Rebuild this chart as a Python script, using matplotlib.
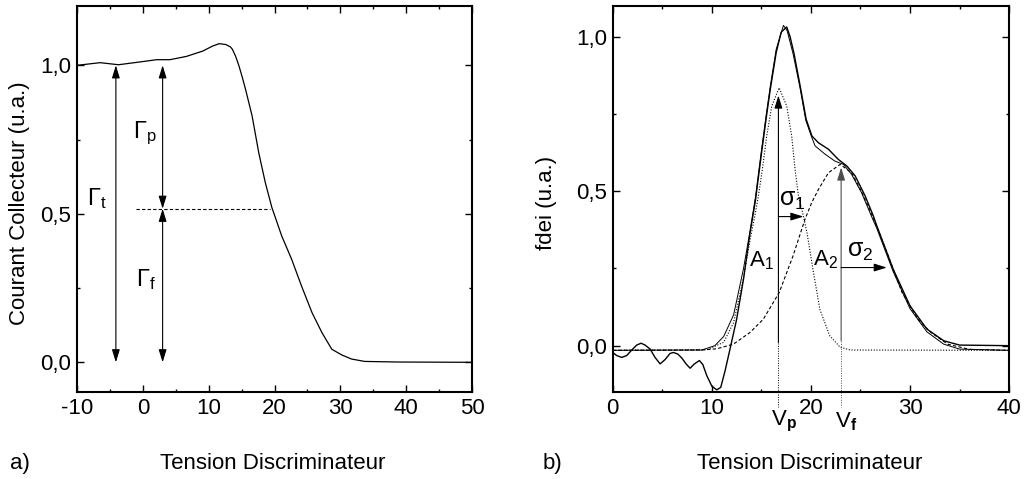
import numpy as np
import matplotlib
matplotlib.use("Agg")
import matplotlib.pyplot as plt
from matplotlib.ticker import MultipleLocator, FuncFormatter

plt.rcParams.update({
    "font.family": ["Liberation Sans", "DejaVu Sans"],
    "font.size": 16,
    "mathtext.fontset": "custom",
    "mathtext.rm": "Liberation Sans",
    "mathtext.it": "Liberation Sans:italic",
    "mathtext.bf": "Liberation Sans:bold",
    "axes.linewidth": 1.5,
    "axes.unicode_minus": False,
})

# a) collector current vs discriminator voltage
xa = [-10, -6.5, -3.7, 0.1, 2.1, 4.1, 6.6, 9.1, 10.6, 11.6, 12.6, 13.3, 13.6, 14.1, 14.6, 15.1, 15.6,
      16.6, 17.6, 18.6, 19.6, 21.1, 22.6, 24.1, 25.7, 27.2, 28.7, 30.2, 31.7, 33.7, 38.8, 50]
ya = [1.0, 1.009, 1.002, 1.013, 1.019, 1.019, 1.03, 1.048, 1.065, 1.073, 1.07, 1.062, 1.054, 1.03,
      0.998, 0.96, 0.919, 0.829, 0.706, 0.605, 0.521, 0.425, 0.347, 0.257, 0.167, 0.1, 0.044,
      0.025, 0.011, 0.003, 0.001, 0.0]
half_level = 0.517
half_x = [-1.0, 19.3]
gamma_t_x = -4.1
gamma_pf_x = 3.0

# b) fdei : measured curve, fit, two gaussians
xd = [0, 0.4, 0.91, 1.41, 1.92, 2.42, 2.86, 3.26, 3.77, 4.27, 4.78, 5.28, 5.79, 6.12, 6.56, 6.97,
      7.4, 7.81, 8.24, 8.75, 9.09, 9.49, 10.0, 10.5, 10.9, 11.34, 11.84,
      12.5, 13.2, 13.86, 14.4, 15.0, 15.5, 15.9, 16.5, 17.0, 17.56, 17.9, 18.3, 18.95, 19.52, 20.1,
      20.76, 21.77, 22.77, 23.62, 24.46, 25.47, 26.3, 26.65, 28.3, 30.0, 31.7, 33.4, 35.0, 40]
yd = [-0.022, -0.032, -0.038, -0.032, -0.014, 0.002, 0.008, 0.002, -0.011, -0.038, -0.059, -0.045,
      -0.025, -0.022, -0.027, -0.04, -0.059, -0.073, -0.059, -0.048, -0.061, -0.097, -0.131, -0.143,
      -0.135, -0.081, -0.01,
      0.085, 0.216, 0.366, 0.47, 0.62, 0.74, 0.83, 0.95, 1.015, 1.032,
      1.0, 0.945, 0.835, 0.733, 0.679, 0.657, 0.636, 0.603, 0.582, 0.55, 0.485, 0.42, 0.388, 0.248,
      0.129, 0.054, 0.016, 0.002, 0.0]

xf = [0, 9, 10.3, 11.2, 12.2, 13.2, 13.9, 14.4, 15.0, 15.5, 15.9, 16.5, 17.23, 17.6, 18.2, 18.9,
      19.48, 20.08, 20.42, 21.43, 22.4, 23.28, 24.1, 25.1, 26.1, 26.65, 28.3, 30.0, 31.7, 33.4, 35.0, 40]
yf = [-0.015, -0.014, 0.0, 0.03, 0.10, 0.25, 0.38, 0.48, 0.63, 0.75, 0.84, 0.96, 1.037, 1.02, 0.945,
      0.835, 0.73, 0.675, 0.647, 0.62, 0.598, 0.587, 0.555, 0.496, 0.42, 0.38, 0.24, 0.12, 0.045,
      0.005, -0.011, -0.015]

xg1 = [0, 9.5, 11.2, 12.2, 13.2, 13.9, 14.34, 14.7, 15.1, 15.54, 16.05, 16.79, 17.56, 18.06, 18.4,
       18.74, 19.24, 19.6, 20.26, 20.9, 21.9, 22.95, 24, 40]
yg1 = [-0.015, -0.013, 0.011, 0.075, 0.22, 0.35, 0.42, 0.485, 0.571, 0.679, 0.776, 0.835, 0.776,
       0.679, 0.571, 0.485, 0.42, 0.366, 0.237, 0.118, 0.032, -0.005, -0.014, -0.015]

xg2 = [0, 9, 10.5, 12.18, 13.86, 15.2, 16.8, 18.2, 19.41, 20.08, 20.76, 21.77, 22.95, 24.1, 25.1,
       25.8, 26.75, 27.8, 29.2, 30.8, 32.1, 33.8, 36, 40]
yg2 = [-0.015, -0.014, -0.01, 0.005, 0.043, 0.086, 0.172, 0.291, 0.41, 0.463, 0.506, 0.56, 0.587,
       0.56, 0.5, 0.45, 0.377, 0.291, 0.172, 0.086, 0.043, 0.005, -0.012, -0.015]

vp, vf = 16.72, 23.05
a1_top, a2_top = 0.81, 0.577
sigma1_y, sigma1_end = 0.418, 19.25
sigma2_y, sigma2_end = 0.253, 27.66

fig = plt.figure(figsize=(10.34, 4.79), dpi=100)
ax1 = fig.add_axes([0.0745, 0.1816, 0.382, 0.806])
ax2 = fig.add_axes([0.5926, 0.1816, 0.3833, 0.806])

comma = FuncFormatter(lambda v, p: ("%.1f" % v).replace(".", ","))
for ax in (ax1, ax2):
    ax.tick_params(which="both", direction="in", top=True, right=True, width=1.0, pad=4)
    ax.tick_params(which="major", length=5)
    ax.tick_params(which="minor", length=2.5)
    ax.yaxis.set_major_locator(MultipleLocator(0.5))
    ax.yaxis.set_minor_locator(MultipleLocator(0.25))
    ax.xaxis.set_major_locator(MultipleLocator(10))
    ax.xaxis.set_minor_locator(MultipleLocator(5))
    ax.yaxis.set_major_formatter(comma)

def arrow(ax, x0, y0, x1, y1, style="-|>", color="k"):
    ax.annotate("", xy=(x1, y1), xytext=(x0, y0),
                arrowprops=dict(arrowstyle=style + ",head_length=0.55,head_width=0.17",
                                color=color, lw=0.8, shrinkA=0, shrinkB=0, mutation_scale=14))

# panel a
ax1.plot(xa, ya, color="k", lw=0.9)
ax1.plot(half_x, [half_level, half_level], color="k", lw=0.8, ls=(0, (3, 2)))
arrow(ax1, gamma_t_x, 0.0, gamma_t_x, 1.0, "<|-|>")
arrow(ax1, gamma_pf_x, half_level, gamma_pf_x, 1.0, "<|-|>")
arrow(ax1, gamma_pf_x, 0.0, gamma_pf_x, half_level, "<|-|>")
ax1.text(-8.5, 0.55, r"Γ$_\mathrm{t}$", fontsize=17, va="center")
ax1.text(-1.5, 0.77, r"Γ$_\mathrm{p}$", fontsize=17, va="center")
ax1.text(-1.1, 0.28, r"Γ$_\mathrm{f}$", fontsize=17, va="center")
ax1.set_xlim(-10, 50)
ax1.set_ylim(-0.1, 1.2)
ax1.set_ylabel("Courant Collecteur (u.a.)")
ax1.yaxis.set_label_coords(-0.118, 0.49)

# panel b
ax2.plot(xd, yd, color="k", lw=1.0)
ax2.plot(xf, yf, color="k", lw=0.7)
ax2.plot(xg1, yg1, color="k", lw=0.8, ls=(0, (1, 1.5)))
ax2.plot(xg2, yg2, color="k", lw=0.8, ls=(0, (3, 2)))
arrow(ax2, vp, 0.01, vp, a1_top)
arrow(ax2, vf, 0.016, vf, a2_top, color="0.3")
ax2.plot([vp, vp], [0.01, -0.198], color="k", lw=0.7, ls=(0, (1, 1.5)), clip_on=False)
ax2.plot([vf, vf], [0.016, -0.198], color="0.3", lw=0.7, ls=(0, (1, 1.5)), clip_on=False)
arrow(ax2, vp, sigma1_y, sigma1_end, sigma1_y)
arrow(ax2, vf, sigma2_y, sigma2_end, sigma2_y)
ax2.text(18.1, 0.472, r"σ$_\mathrm{1}$", fontsize=18, ha="center", va="center")
ax2.text(25.0, 0.305, r"σ$_\mathrm{2}$", fontsize=18, ha="center", va="center")
ax2.text(15.0, 0.275, r"A$_\mathrm{1}$", ha="center", va="center")
ax2.text(21.5, 0.28, r"A$_\mathrm{2}$", ha="center", va="center")
ax2.text(16.0, -0.245, r"V$_\mathbf{p}$", ha="left", va="center", clip_on=False)
ax2.text(22.4, -0.245, r"V$_\mathbf{f}$", ha="left", va="center", clip_on=False)
ax2.set_xlim(0, 40)
ax2.set_ylim(-0.15, 1.1)
ax2.set_ylabel("fdei (u.a.)")
ax2.yaxis.set_label_coords(-0.14, 0.49)

fig.text(273 / 1034, 0.0334, "Tension Discriminateur", ha="center", va="center")
fig.text(810 / 1034, 0.0334, "Tension Discriminateur", ha="center", va="center")
fig.text(10 / 1034, 0.0334, "a)", ha="left", va="center")
fig.text(543 / 1034, 0.0334, "b)", ha="left", va="center")

fig.savefig("out.png", dpi=100)
